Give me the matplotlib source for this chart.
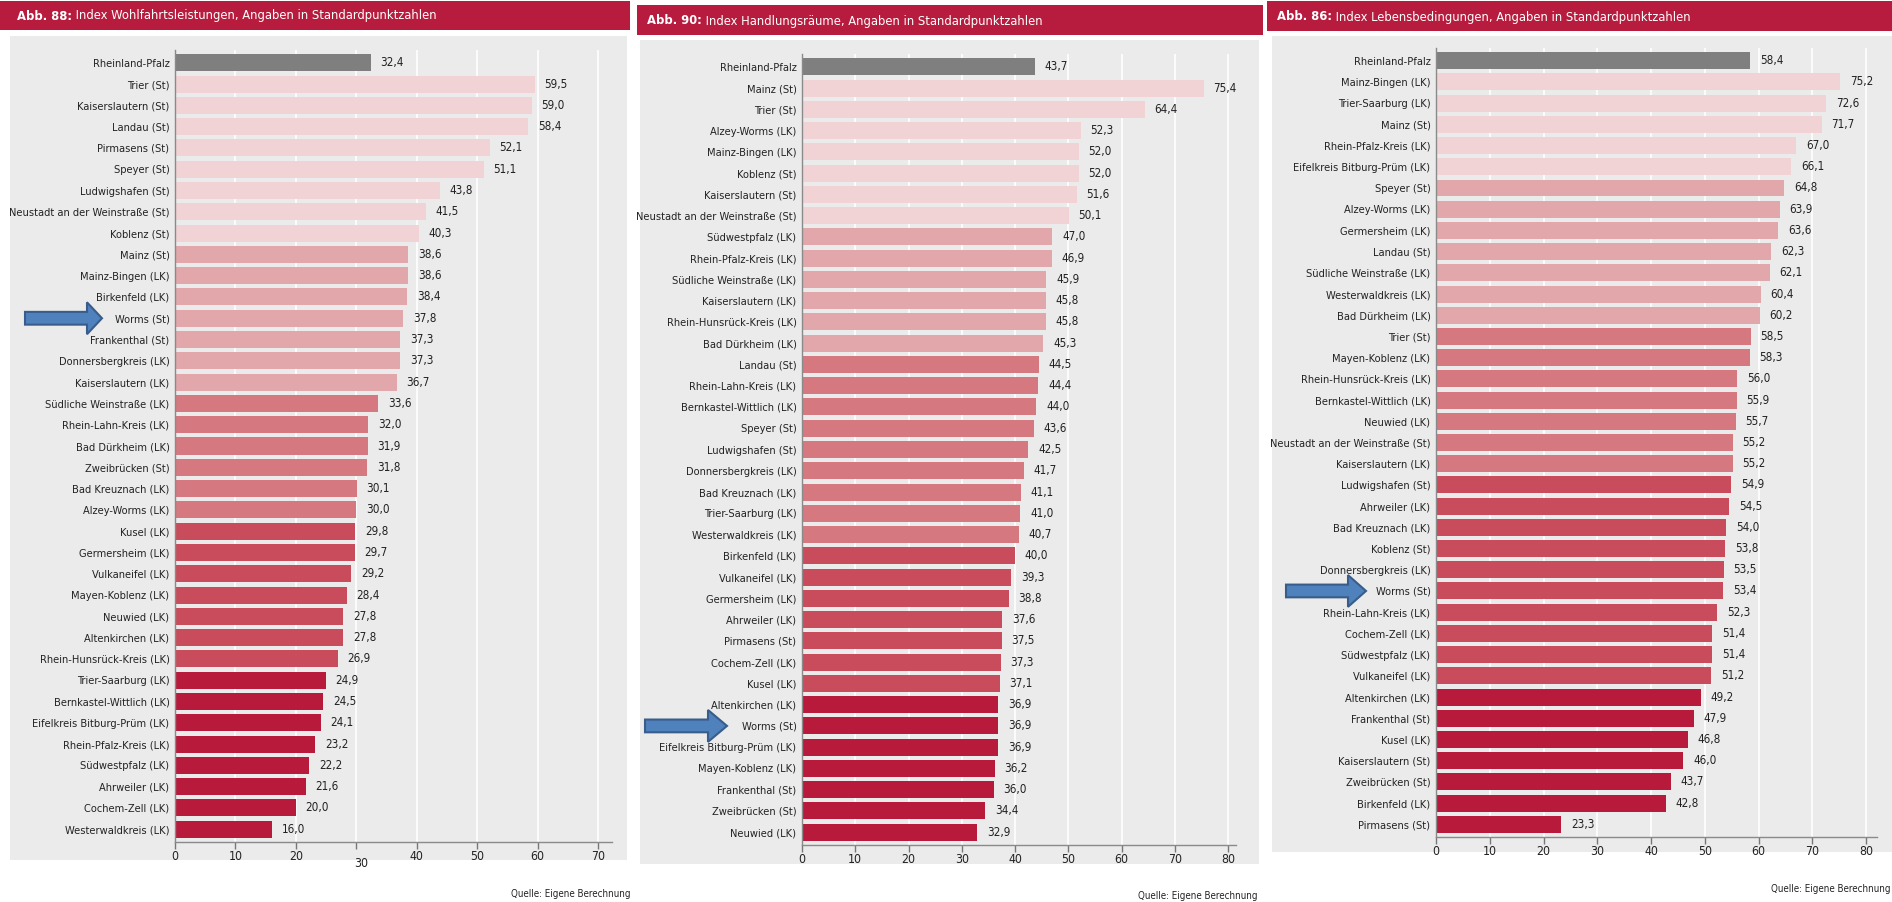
import matplotlib
matplotlib.use("Agg")
import matplotlib.pyplot as plt
from matplotlib import font_manager, transforms
from matplotlib.patches import FancyArrow, Rectangle

W, H = 1892, 902

# ---------------------------------------------------------------- data
labels_wohlfahrt = [
    "Rheinland-Pfalz", "Trier (St)", "Kaiserslautern (St)", "Landau (St)", "Pirmasens (St)",
    "Speyer (St)", "Ludwigshafen (St)", "Neustadt an der Weinstraße (St)", "Koblenz (St)",
    "Mainz (St)", "Mainz-Bingen (LK)", "Birkenfeld (LK)", "Worms (St)", "Frankenthal (St)",
    "Donnersbergkreis (LK)", "Kaiserslautern (LK)", "Südliche Weinstraße (LK)",
    "Rhein-Lahn-Kreis (LK)", "Bad Dürkheim (LK)", "Zweibrücken (St)", "Bad Kreuznach (LK)",
    "Alzey-Worms (LK)", "Kusel (LK)", "Germersheim (LK)", "Vulkaneifel (LK)",
    "Mayen-Koblenz (LK)", "Neuwied (LK)", "Altenkirchen (LK)", "Rhein-Hunsrück-Kreis (LK)",
    "Trier-Saarburg (LK)", "Bernkastel-Wittlich (LK)", "Eifelkreis Bitburg-Prüm (LK)",
    "Rhein-Pfalz-Kreis (LK)", "Südwestpfalz (LK)", "Ahrweiler (LK)", "Cochem-Zell (LK)",
    "Westerwaldkreis (LK)",
]
values_wohlfahrt = [
    32.4, 59.5, 59.0, 58.4, 52.1, 51.1, 43.8, 41.5, 40.3, 38.6, 38.6, 38.4, 37.8, 37.3,
    37.3, 36.7, 33.6, 32.0, 31.9, 31.8, 30.1, 30.0, 29.8, 29.7, 29.2, 28.4, 27.8, 27.8,
    26.9, 24.9, 24.5, 24.1, 23.2, 22.2, 21.6, 20.0, 16.0,
]
groups_wohlfahrt = [1, 8, 7, 6, 7, 8]

labels_handlung = [
    "Rheinland-Pfalz", "Mainz (St)", "Trier (St)", "Alzey-Worms (LK)", "Mainz-Bingen (LK)",
    "Koblenz (St)", "Kaiserslautern (St)", "Neustadt an der Weinstraße (St)",
    "Südwestpfalz (LK)", "Rhein-Pfalz-Kreis (LK)", "Südliche Weinstraße (LK)",
    "Kaiserslautern (LK)", "Rhein-Hunsrück-Kreis (LK)", "Bad Dürkheim (LK)", "Landau (St)",
    "Rhein-Lahn-Kreis (LK)", "Bernkastel-Wittlich (LK)", "Speyer (St)", "Ludwigshafen (St)",
    "Donnersbergkreis (LK)", "Bad Kreuznach (LK)", "Trier-Saarburg (LK)",
    "Westerwaldkreis (LK)", "Birkenfeld (LK)", "Vulkaneifel (LK)", "Germersheim (LK)",
    "Ahrweiler (LK)", "Pirmasens (St)", "Cochem-Zell (LK)", "Kusel (LK)",
    "Altenkirchen (LK)", "Worms (St)", "Eifelkreis Bitburg-Prüm (LK)", "Mayen-Koblenz (LK)",
    "Frankenthal (St)", "Zweibrücken (St)", "Neuwied (LK)",
]
values_handlung = [
    43.7, 75.4, 64.4, 52.3, 52.0, 52.0, 51.6, 50.1, 47.0, 46.9, 45.9, 45.8, 45.8, 45.3,
    44.5, 44.4, 44.0, 43.6, 42.5, 41.7, 41.1, 41.0, 40.7, 40.0, 39.3, 38.8, 37.6, 37.5,
    37.3, 37.1, 36.9, 36.9, 36.9, 36.2, 36.0, 34.4, 32.9,
]
groups_handlung = [1, 7, 6, 9, 7, 7]

labels_leben = [
    "Rheinland-Pfalz", "Mainz-Bingen (LK)", "Trier-Saarburg (LK)", "Mainz (St)",
    "Rhein-Pfalz-Kreis (LK)", "Eifelkreis Bitburg-Prüm (LK)", "Speyer (St)",
    "Alzey-Worms (LK)", "Germersheim (LK)", "Landau (St)", "Südliche Weinstraße (LK)",
    "Westerwaldkreis (LK)", "Bad Dürkheim (LK)", "Trier (St)", "Mayen-Koblenz (LK)",
    "Rhein-Hunsrück-Kreis (LK)", "Bernkastel-Wittlich (LK)", "Neuwied (LK)",
    "Neustadt an der Weinstraße (St)", "Kaiserslautern (LK)", "Ludwigshafen (St)",
    "Ahrweiler (LK)", "Bad Kreuznach (LK)", "Koblenz (St)", "Donnersbergkreis (LK)",
    "Worms (St)", "Rhein-Lahn-Kreis (LK)", "Cochem-Zell (LK)", "Südwestpfalz (LK)",
    "Vulkaneifel (LK)", "Altenkirchen (LK)", "Frankenthal (St)", "Kusel (LK)",
    "Kaiserslautern (St)", "Zweibrücken (St)", "Birkenfeld (LK)", "Pirmasens (St)",
]
values_leben = [
    58.4, 75.2, 72.6, 71.7, 67.0, 66.1, 64.8, 63.9, 63.6, 62.3, 62.1, 60.4, 60.2, 58.5,
    58.3, 56.0, 55.9, 55.7, 55.2, 55.2, 54.9, 54.5, 54.0, 53.8, 53.5, 53.4, 52.3, 51.4,
    51.4, 51.2, 49.2, 47.9, 46.8, 46.0, 43.7, 42.8, 23.3,
]
groups_leben = [1, 5, 7, 7, 10, 7]

titles = [
    ("Abb. 88:", " Index Wohlfahrtsleistungen, Angaben in Standardpunktzahlen"),
    ("Abb. 90:", " Index Handlungsräume, Angaben in Standardpunktzahlen"),
    ("Abb. 86:", " Index Lebensbedingungen, Angaben in Standardpunktzahlen"),
]
source_text = "Quelle: Eigene Berechnung"
highlight = "Worms (St)"

# ---------------------------------------------------------------- style
SHADES = ["#7f7f7f", "#f1d3d6", "#e2a7ab", "#d5787f", "#c84c5b", "#b81a3c"]
HEADER = "#b71c3e"
PANEL_BG = "#ebebeb"

fonts = font_manager.fontManager.ttflist
names = {f.name for f in fonts}
if "Liberation Sans Narrow" in names:
    plt.rcParams["font.family"] = ["Liberation Sans Narrow", "DejaVu Sans"]
    fs = 1.0
elif any(f.name == "DejaVu Sans" and f.stretch == "condensed" for f in fonts):
    plt.rcParams["font.family"] = ["DejaVu Sans"]
    plt.rcParams["font.stretch"] = "condensed"
    fs = 0.88
else:
    plt.rcParams["font.family"] = ["DejaVu Sans"]
    fs = 0.8

# pixel geometry per panel (left, top, right, bottom of plot area)
panels = [
    dict(labels=labels_wohlfahrt, values=values_wohlfahrt, groups=groups_wohlfahrt,
         axes=(175, 50, 612, 842), xmax=72.3, ticks=list(range(0, 71, 10)),
         bg=(10, 36, 627, 860), header=(0, 1, 630, 30), title_xy=(17, 16),
         source_xy=(630, 894), arrow=(25, 102, 15)),
    dict(labels=labels_handlung, values=values_handlung, groups=groups_handlung,
         axes=(802, 54, 1236, 845), xmax=81.5, ticks=list(range(0, 81, 10)),
         bg=(640, 40, 1259, 864), header=(637, 5, 1263, 35), title_xy=(647, 21),
         source_xy=(1257, 896), arrow=(645, 727, 19)),
    dict(labels=labels_leben, values=values_leben, groups=groups_leben,
         axes=(1436, 48, 1877, 837), xmax=82.0, ticks=list(range(0, 81, 10)),
         bg=(1272, 36, 1892, 852), header=(1267, 1, 1892, 31), title_xy=(1277, 17),
         source_xy=(1890, 889), arrow=(1286, 1366, 18)),
]


def px_rect(l, t, r, b):
    return [l / W, 1 - b / H, (r - l) / W, (b - t) / H]


def shade_list(groups):
    colors = []
    for k, n in enumerate(groups):
        colors += [SHADES[k]] * n
    return colors


fig = plt.figure(figsize=(W / 100, H / 100), dpi=100)
fig.patch.set_facecolor("white")

# full-figure overlay in pixel coordinates for backgrounds, headers, footers
bg = fig.add_axes([0, 0, 1, 1], zorder=-5)
bg.set_xlim(0, W)
bg.set_ylim(H, 0)
bg.axis("off")

for p, (bold, rest) in zip(panels, titles):
    l, t, r, b = p["bg"]
    bg.add_patch(Rectangle((l, t), r - l, b - t, facecolor=PANEL_BG, edgecolor="none"))
    l, t, r, b = p["header"]
    bg.add_patch(Rectangle((l, t), r - l, b - t, facecolor=HEADER, edgecolor="none"))
    tx, ty = p["title_xy"]
    t1 = bg.text(tx, ty, bold, color="white", fontsize=10.5 * fs, fontweight="bold",
                 va="center", ha="left")
    bg.annotate(rest, xy=(1, 0.5), xycoords=t1, va="center", ha="left",
                color="white", fontsize=10.5 * fs)
    sx, sy = p["source_xy"]
    bg.text(sx, sy, source_text, fontsize=8 * fs, color="#222222", ha="right", va="center")

for p in panels:
    ax = fig.add_axes(px_rect(*p["axes"]))
    ax.set_facecolor("none")
    n = len(p["values"])
    pos = list(range(n))
    ax.barh(pos, p["values"], height=0.8, color=shade_list(p["groups"]), zorder=2)
    for i, v in enumerate(p["values"]):
        ax.annotate(f"{v:.1f}".replace(".", ","), (v, i), xytext=(7, 0),
                    textcoords="offset points", va="center", ha="left",
                    fontsize=9.5 * fs, color="#222222")

    ax.set_yticks(pos, p["labels"])
    ax.set_xticks(p["ticks"], [str(t) for t in p["ticks"]])
    ax.set_xlim(0, p["xmax"])
    ax.set_ylim(n - 0.4, -0.6)
    ax.xaxis.grid(True, color="white", linewidth=1.2)
    ax.set_axisbelow(True)
    for side in ("top", "right"):
        ax.spines[side].set_visible(False)
    for side in ("left", "bottom"):
        ax.spines[side].set_color("#8a8a8a")
        ax.spines[side].set_linewidth(1.0)
    ax.tick_params(axis="y", length=0, pad=4, labelsize=9 * fs, labelcolor="#222222")
    ax.tick_params(axis="x", length=5, width=1, color="#777777", pad=1,
                   labelsize=10 * fs, labelcolor="#222222")

    # highlight arrow pointing at Worms
    tail, tip, head = p["arrow"]
    idx = p["labels"].index(highlight)
    trans = transforms.blended_transform_factory(fig.transFigure, ax.transData)
    arrow = FancyArrow(tail / W, idx, (tip - tail) / W, 0, width=0.6, head_width=1.5,
                       head_length=head / W, length_includes_head=True,
                       facecolor="#4f81bd", edgecolor="#385d8a", linewidth=1.5,
                       transform=trans, zorder=10)
    fig.add_artist(arrow)

    p["ax"] = ax

# the "30" label of the first chart sits lower and a bit to the right in the original
ax0 = panels[0]["ax"]
lbl = ax0.xaxis.get_major_ticks()[3].label1
lbl.set_transform(lbl.get_transform()
                  + transforms.ScaledTranslation(0.05, -0.07, fig.dpi_scale_trans))

fig.savefig("out.png", dpi=100, facecolor="white")
